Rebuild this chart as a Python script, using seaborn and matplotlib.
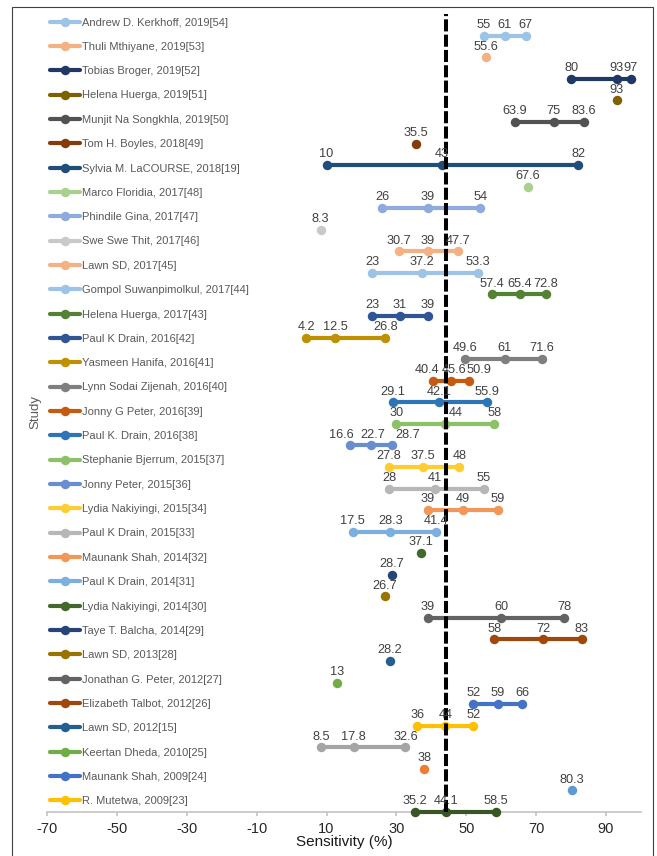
import matplotlib
matplotlib.use('Agg')
import matplotlib.pyplot as plt
import seaborn as sns
from matplotlib.patches import Rectangle

# studies, top row first (last four rows have no legend entry)
studies = [
    'Andrew D. Kerkhoff, 2019[54]', 'Thuli Mthiyane, 2019[53]', 'Tobias Broger, 2019[52]',
    'Helena Huerga, 2019[51]', 'Munjit Na Songkhla, 2019[50]', 'Tom H. Boyles, 2018[49]',
    'Sylvia M. LaCOURSE, 2018[19]', 'Marco Floridia, 2017[48]', 'Phindile Gina, 2017[47]',
    'Swe Swe Thit, 2017[46]', 'Lawn SD, 2017[45]', 'Gompol Suwanpimolkul, 2017[44]',
    'Helena Huerga, 2017[43]', 'Paul K Drain, 2016[42]', 'Yasmeen Hanifa, 2016[41]',
    'Lynn Sodai Zijenah, 2016[40]', 'Jonny G Peter, 2016[39]', 'Paul K. Drain, 2016[38]',
    'Stephanie Bjerrum, 2015[37]', 'Jonny Peter, 2015[36]', 'Lydia Nakiyingi, 2015[34]',
    'Paul K Drain, 2015[33]', 'Maunank Shah, 2014[32]', 'Paul K Drain, 2014[31]',
    'Lydia Nakiyingi, 2014[30]', 'Taye T. Balcha, 2014[29]', 'Lawn SD, 2013[28]',
    'Jonathan G. Peter, 2012[27]', 'Elizabeth Talbot, 2012[26]', 'Lawn SD, 2012[15]',
    'Keertan Dheda, 2010[25]', 'Maunank Shah, 2009[24]', 'R. Mutetwa, 2009[23]',
    '_nolegend_', '_nolegend_', '_nolegend_', '_nolegend_',
]

sensitivity = [
    [55, 61, 67], [55.6], [80, 93, 97], [93], [63.9, 75, 83.6], [35.5],
    [10, 43, 82], [67.6], [26, 39, 54], [8.3], [30.7, 39, 47.7], [23, 37.2, 53.3],
    [57.4, 65.4, 72.8], [23, 31, 39], [4.2, 12.5, 26.8], [49.6, 61, 71.6],
    [40.4, 45.6, 50.9], [29.1, 42.1, 55.9], [30, 44, 58], [16.6, 22.7, 28.7],
    [27.8, 37.5, 48], [28, 41, 55], [39, 49, 59], [17.5, 28.3, 41.4],
    [37.1], [28.7], [26.7], [39, 60, 78], [58, 72, 83], [28.2], [13],
    [52, 59, 66], [36, 44, 52], [8.5, 17.8, 32.6], [38], [80.3],
    [35.2, 44.1, 58.5],
]

colors = [
    '#9DC3E6', '#F4B183', '#203864', '#7F6000', '#525252', '#843C0C',
    '#1F4E79', '#A9D18E', '#8FAADC', '#C9C9C9', '#F4B183', '#9DC3E6',
    '#548235', '#2F5597', '#BF9000', '#7F7F7F', '#C55A11', '#2E75B6',
    '#8CC168', '#698ED0', '#FFCD33', '#B7B7B7', '#F1975A', '#7CAFDD',
    '#43682B', '#264478', '#997300', '#636363', '#9E480E', '#255E91',
    '#70AD47', '#4472C4', '#FFC000', '#A5A5A5', '#ED7D31', '#5B9BD5',
    '#375623',
]

pooled_mean = 44.1
n_legend = 33

# label nudges (points) where the labels were shifted to avoid overlap
label_nudge = {(16, 0): -4.3, (16, 1): 2.2, (16, 2): 7.2, (18, 1): 7.7,
               (19, 0): -5.8, (19, 1): 1.4, (19, 2): 11.3}

sns.set_style('white')
plt.rcParams['font.family'] = ['Liberation Sans', 'DejaVu Sans']
plt.rcParams['axes.unicode_minus'] = False

fig = plt.figure(figsize=(6.57, 8.56), dpi=100)
ax = fig.add_axes([47 / 657, 44 / 856, 594 / 657, 800 / 856])

n_rows = len(studies)
for i, (name, vals, col) in enumerate(zip(studies, sensitivity, colors)):
    y = n_rows - 1 - i
    sns.lineplot(x=vals, y=[y] * len(vals), color=col, lw=3, marker='o',
                 markersize=6.8, markeredgewidth=0, label=name,
                 estimator=None, sort=False, ax=ax, clip_on=False, zorder=3)
    for j, v in enumerate(vals):
        ax.annotate(f'{v:g}', (v, y), xytext=(label_nudge.get((i, j), 0), 5.6),
                    textcoords='offset points', ha='center', va='baseline',
                    fontsize=9.2, color='#404040', zorder=6, annotation_clip=False)

# pooled sensitivity reference line
ax.plot([pooled_mean, pooled_mean], [0, n_rows], color='black', lw=2.9,
        ls=(0, (3, 0.8)), zorder=4, clip_on=False, label='_nolegend_')

ax.set_xlim(-70, 100)
ax.set_xticks(range(-70, 91, 20))
ax.set_ylim(0, 37.1)
ax.set_yticks([])
for s in ['left', 'top', 'right']:
    ax.spines[s].set_visible(False)
ax.spines['bottom'].set_color('#BFBFBF')
ax.spines['bottom'].set_linewidth(1.1)
ax.tick_params(axis='x', colors='#BFBFBF', labelcolor='#262626', labelsize=10.5,
               length=3, width=1.1, pad=4, direction='out', bottom=True)

ax.set_xlabel('Sensitivity (%)', fontsize=11, color='#1a1a1a')
ax.xaxis.set_label_coords(0.5, -0.029)
ax.set_ylabel('Study', fontsize=9.5, color='#595959')
ax.yaxis.set_label_coords(-0.010, 0.5)

handles, labels = ax.get_legend_handles_labels()
ax.legend(handles[:n_legend], labels[:n_legend], loc='upper left',
          bbox_to_anchor=(50 / 657, 1 - 17.5 / 856), bbox_transform=fig.transFigure,
          frameon=False, fontsize=8, labelspacing=1.29, handlelength=2.7,
          handletextpad=0.18, borderpad=0, borderaxespad=0, labelcolor='#595959')

# chart area border
fig.add_artist(Rectangle((11.5 / 657, -0.01), (653 - 11.5) / 657, 1.01 - 7.5 / 856,
                         transform=fig.transFigure, fill=False, ec='#404040', lw=0.8))

fig.savefig('out.png', dpi=100)
